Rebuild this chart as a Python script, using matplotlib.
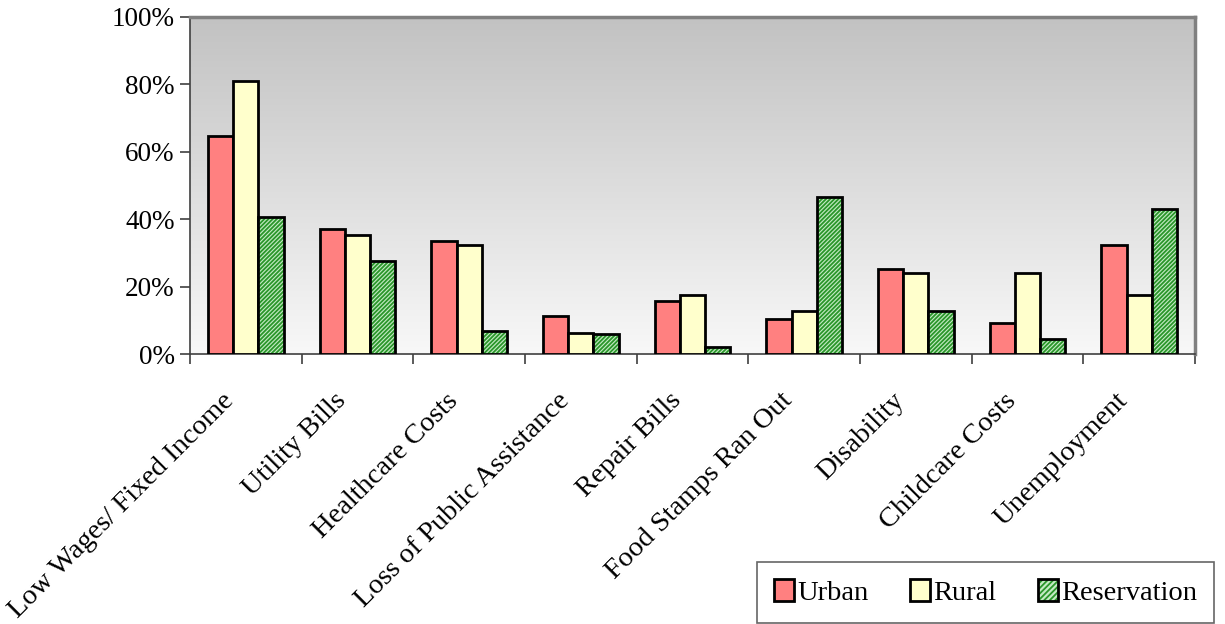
import matplotlib
matplotlib.use("Agg")
import matplotlib.pyplot as plt
import numpy as np
from matplotlib.patches import Patch
from matplotlib.legend_handler import HandlerTuple
from matplotlib.colors import LinearSegmentedColormap

categories = ["Low Wages/ Fixed Income", "Utility Bills", "Healthcare Costs",
              "Loss of Public Assistance", "Repair Bills", "Food Stamps Ran Out",
              "Disability", "Childcare Costs", "Unemployment"]
urban = [64.8, 37.1, 33.6, 11.2, 15.8, 10.5, 25.3, 9.3, 32.4]
rural = [80.9, 35.4, 32.4, 6.3, 17.6, 12.9, 24.0, 24.0, 17.6]
reservation = [40.7, 27.6, 6.8, 5.8, 2.2, 46.7, 12.8, 4.5, 43.0]
series_names = ["Urban", "Rural", "Reservation"]
yticks = [0, 20, 40, 60, 80, 100]

plt.rcParams['font.family'] = ['Liberation Serif', 'DejaVu Serif']
plt.rcParams['hatch.linewidth'] = 1.3

W, H = 1225, 624
fig = plt.figure(figsize=(W / 100, H / 100), dpi=100)
ax = fig.add_axes([190 / W, 1 - 354 / H, (1195 - 190) / W, (354 - 17) / H])

# gradient background
cmap = LinearSegmentedColormap.from_list("bg", ["#f8f8f8", "#c2c2c2"])
grad = np.linspace(0, 1, 256).reshape(-1, 1)
ax.imshow(grad, extent=[0, 1, 0, 1], transform=ax.transAxes, aspect='auto',
          cmap=cmap, origin='lower', zorder=0)

GREEN_FACE = "#c4eac4"
GREEN_HATCH = "#2a962a"
LW = 2.0

x = np.arange(len(categories))
bw = 0.225
ax.bar(x - bw, urban, bw, color="#ff8080", edgecolor="black", linewidth=LW, zorder=3)
ax.bar(x, rural, bw, color="#ffffcc", edgecolor="black", linewidth=LW, zorder=3)
ax.bar(x + bw, reservation, bw, color=GREEN_FACE, edgecolor=GREEN_HATCH, hatch="////////",
       linewidth=0, zorder=3)
ax.bar(x + bw, reservation, bw, color="none", edgecolor="black", linewidth=LW, zorder=4)

ax.set_xlim(-0.5, len(categories) - 0.5)
ax.set_ylim(0, 100)
ax.set_yticks(yticks)
ax.set_yticklabels([f"{v}%" for v in yticks], fontsize=19.5)
ax.set_xticks(np.arange(len(categories) + 1) - 0.5)
ax.set_xticklabels([])
ax.tick_params(axis='both', direction='out', length=7, width=1.2, color="#404040")
ax.tick_params(axis='y', pad=4)

for i, c in enumerate(categories):
    ax.annotate(c, xy=(i, 0), xycoords='data', xytext=(-11, -31), textcoords='offset points',
                rotation=45, rotation_mode='anchor', ha='right', va='center', fontsize=20.5)

for s in ['left', 'bottom']:
    ax.spines[s].set_color("#404040")
    ax.spines[s].set_linewidth(1.2)
for s in ['top', 'right']:
    ax.spines[s].set_color("#808080")
    ax.spines[s].set_linewidth(2.5)

h_res = (Patch(facecolor=GREEN_FACE, edgecolor=GREEN_HATCH, hatch="//////", linewidth=0),
         Patch(facecolor="none", edgecolor="black", linewidth=LW))
h_urb = Patch(facecolor="#ff8080", edgecolor="black", linewidth=LW)
h_rur = Patch(facecolor="#ffffcc", edgecolor="black", linewidth=LW)
leg = fig.legend([h_urb, h_rur, h_res], series_names, ncol=3,
                 handler_map={tuple: HandlerTuple(ndivide=1, pad=0)},
                 loc='lower right', bbox_to_anchor=(1214 / W, 1 / H),
                 bbox_transform=fig.transFigure, borderaxespad=0,
                 fontsize=20.5, fancybox=False, frameon=True, edgecolor="#404040",
                 handlelength=0.7, handleheight=0.8, handletextpad=0.12,
                 columnspacing=1.45, borderpad=0.6)
leg.get_frame().set_linewidth(1.2)

fig.savefig("out.png", dpi=100)
